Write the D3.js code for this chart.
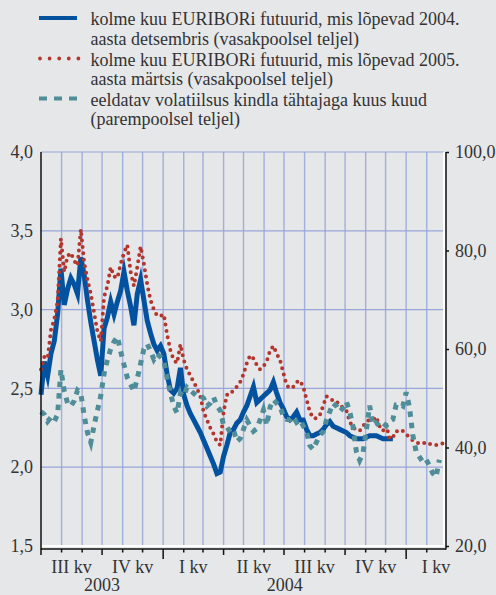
<!DOCTYPE html>
<html>
<head>
<meta charset="utf-8">
<script src="https://cdn.jsdelivr.net/npm/d3@7"></script>
<style>
    body { margin: 0; background: #e6e7e9; }
    svg { display: block; font-family: "Liberation Serif", "Times New Roman", serif; }
</style>
</head>
<body>
<svg id="chart" width="496" height="595"></svg>
<script>
// readings every 5 calendar days from 1 July 2003
const startDate = new Date(2003, 6, 1);
const stepDays = 5;

const euribor2004Dec = [
    2.46, 2.67, 2.58, 2.72, 2.80, 2.97, 3.26, 3.03, 3.13, 3.20,
    3.16, 3.10, 3.33, 3.22, 3.06, 2.92, 2.80, 2.68, 2.58, 2.88,
    2.95, 3.05, 2.97, 3.05, 3.12, 3.24, 3.12, 3.02, 2.90, 3.10,
    3.19, 3.06, 2.93, 2.85, 2.78, 2.74, 2.77, 2.72, 2.59, 2.49,
    2.47, 2.50, 2.63, 2.46, 2.39, 2.34, 2.30, 2.26, 2.22, 2.17,
    2.12, 2.07, 2.02, 1.96, 1.97, 2.07, 2.14, 2.22, 2.24, 2.28,
    2.30, 2.35, 2.39, 2.45, 2.51, 2.41, 2.43, 2.45, 2.47, 2.49,
    2.54, 2.47, 2.41, 2.37, 2.32, 2.30, 2.32, 2.35, 2.30, 2.30,
    2.24, 2.20, 2.20, 2.21, 2.22, 2.24, 2.27, 2.29, 2.26, 2.25,
    2.24, 2.23, 2.22, 2.20, 2.19, 2.18, 2.18, 2.18, 2.19, 2.20,
    2.20, 2.20, 2.19, 2.18, 2.18, 2.18, 2.18
];

const euribor2005Mar = [
    2.62, 2.70, 2.69, 2.87, 2.94, 3.05, 3.45, 3.24, 3.34, 3.36,
    3.31, 3.28, 3.51, 3.30, 3.19, 3.10, 2.98, 2.86, 2.80, 3.08,
    3.15, 3.27, 3.21, 3.20, 3.29, 3.36, 3.41, 3.24, 3.15, 3.27,
    3.40, 3.29, 3.16, 3.06, 3.00, 2.96, 2.96, 2.97, 2.84, 2.74,
    2.68, 2.66, 2.78, 2.68, 2.62, 2.58, 2.54, 2.50, 2.45, 2.35,
    2.30, 2.25, 2.21, 2.16, 2.14, 2.35, 2.46, 2.46, 2.49, 2.51,
    2.54, 2.59, 2.66, 2.71, 2.69, 2.65, 2.62, 2.64, 2.67, 2.74,
    2.77, 2.72, 2.68, 2.60, 2.52, 2.50, 2.51, 2.54, 2.55, 2.51,
    2.43, 2.35, 2.31, 2.31, 2.33, 2.39, 2.45, 2.44, 2.42, 2.42,
    2.39, 2.38, 2.36, 2.29, 2.25, 2.24, 2.23, 2.26, 2.29, 2.30,
    2.30, 2.32, 2.26, 2.23, 2.27, 2.18, 2.19, 2.23, 2.22, 2.23,
    2.21, 2.19, 2.17, 2.16, 2.15, 2.15, 2.16, 2.15, 2.14, 2.14,
    2.15, 2.15
];

const volatility = [
    47.3, 46.7, 45.3, 46.1, 45.3, 46.7, 55.8, 51.5, 49.0, 48.4,
    49.5, 51.6, 51.0, 46.5, 43.0, 41.0, 44.5, 47.5, 50.5, 55.0,
    57.8, 60.0, 61.5, 62.5, 59.5, 56.8, 54.2, 52.8, 51.4, 54.0,
    57.0, 60.0, 61.0, 59.6, 57.9, 59.0, 58.4, 57.6, 54.0, 51.0,
    48.4, 47.0, 51.0, 50.4, 52.2, 51.6, 51.0, 50.4, 50.5, 50.0,
    48.4, 49.0, 50.2, 48.4, 47.5, 44.5, 44.2, 43.1, 43.6, 41.2,
    41.8, 43.7, 45.6, 44.4, 43.3, 43.8, 45.6, 47.6, 44.5, 48.2,
    49.7, 49.0, 48.3, 46.4, 45.7, 45.6, 46.3, 45.1, 45.6, 44.4,
    43.1, 40.4, 39.6, 41.1, 42.5, 43.2, 45.6, 47.3, 49.0, 48.4,
    47.3, 48.0, 49.3, 47.3, 44.2, 39.2, 37.4, 38.9, 43.5, 48.5,
    44.5, 45.0, 44.4, 45.0, 44.4, 45.3, 45.7, 48.7, 48.8, 48.4,
    51.2, 48.2, 42.5, 39.2, 38.1, 37.1, 37.6, 36.3, 34.8, 34.0,
    37.5
];

const leftTicks = [1.5, 2.0, 2.5, 3.0, 3.5, 4.0];
const rightTicks = [20, 40, 60, 80, 100];
const quarterLabels = ["III kv", "IV kv", "I kv", "II kv", "III kv", "IV kv", "I kv"];
const yearLabels = ["2003", "2004"];

const legendItems = [
    ["kolme kuu EURIBORi futuurid, mis lõpevad 2004.", "aasta detsembris (vasakpoolsel teljel)"],
    ["kolme kuu EURIBORi futuurid, mis lõpevad 2005.", "aasta märtsis (vasakpoolsel teljel)"],
    ["eeldatav volatiilsus kindla tähtajaga kuus kuud", "(parempoolsel teljel)"]
];

const colBlue = "#0352a0",
    colRed = "#b3362e",
    colTeal = "#4f8e99",
    colGrid = "#97a5d9",
    colText = "#333";

const pLeft = 41, pRight = 444, pTop = 152, pBottom = 546;

const svg = d3.select("#chart");

const x = d3.scaleTime()
    .domain([startDate, new Date(2005, 1, 27)])
    .range([pLeft, pRight]);
const yL = d3.scaleLinear().domain([1.5, 4]).range([pBottom, pTop]);
const yR = d3.scaleLinear().domain([20, 100]).range([pBottom, pTop]);

const dateAt = i => d3.timeDay.offset(startDate, i * stepDays);
const fmt = d => d3.format(".1f")(d).replace(".", ",");

// legend
const legend = svg.append("g");
const legendY = [18, 58.5, 98.5];
legendItems.forEach(function (lines, k) {
    lines.forEach(function (t, j) {
        legend.append("text")
            .attr("x", 90.5)
            .attr("y", legendY[k] + 7 + j * 19.7)
            .attr("font-size", 18)
            .attr("fill", colText)
            .text(t);
    });
});
legend.append("line")
    .attr("x1", 39).attr("x2", 77).attr("y1", legendY[0]).attr("y2", legendY[0])
    .attr("stroke", colBlue).attr("stroke-width", 4);
legend.append("line")
    .attr("x1", 40).attr("x2", 79).attr("y1", legendY[1]).attr("y2", legendY[1])
    .attr("stroke", colRed).attr("stroke-width", 3.8)
    .attr("stroke-linecap", "round").attr("stroke-dasharray", "0 9.6");
legend.append("line")
    .attr("x1", 39).attr("x2", 77).attr("y1", legendY[2]).attr("y2", legendY[2])
    .attr("stroke", colTeal).attr("stroke-width", 4)
    .attr("stroke-dasharray", "8 7");

// grid
const grid = svg.append("g");
grid.selectAll(".hgrid")
    .data(leftTicks.slice(1))
    .enter().append("line")
    .attr("x1", pLeft).attr("x2", pRight)
    .attr("y1", d => yL(d)).attr("y2", d => yL(d))
    .attr("stroke", colGrid).attr("stroke-width", 1.2);
grid.selectAll(".vgrid")
    .data(d3.timeMonth.range(new Date(2003, 7, 1), x.domain()[1]))
    .enter().append("line")
    .attr("x1", d => x(d)).attr("x2", d => x(d))
    .attr("y1", pTop).attr("y2", pBottom)
    .attr("stroke", colGrid).attr("stroke-width", 1.4).attr("opacity", 0.85);

// white frame
svg.append("line").attr("x1", pLeft).attr("x2", pRight).attr("y1", pBottom).attr("y2", pBottom)
    .attr("stroke", "#fff").attr("stroke-width", 2);
svg.append("line").attr("x1", pRight).attr("x2", pRight).attr("y1", pTop).attr("y2", pBottom)
    .attr("stroke", "#fff").attr("stroke-width", 2);

// series
const lineL = d3.line().x((d, i) => x(dateAt(i))).y(d => yL(d));
const lineR = d3.line().x((d, i) => x(dateAt(i))).y(d => yR(d));

svg.append("path").datum(euribor2004Dec)
    .attr("d", lineL).attr("fill", "none")
    .attr("stroke", colBlue).attr("stroke-width", 5)
    .attr("stroke-miterlimit", 6);
svg.append("path").datum(euribor2005Mar)
    .attr("d", lineL).attr("fill", "none")
    .attr("stroke", colRed).attr("stroke-width", 4)
    .attr("stroke-linecap", "round").attr("stroke-dasharray", "0 6.5");
svg.append("path").datum(volatility)
    .attr("d", lineR).attr("fill", "none")
    .attr("stroke", colTeal).attr("stroke-width", 5)
    .attr("stroke-dasharray", "5.5 6");

// axes
svg.append("line").attr("x1", pLeft).attr("x2", pLeft).attr("y1", pTop).attr("y2", pBottom + 3.5)
    .attr("stroke", "#111").attr("stroke-width", 1.5);
svg.append("line").attr("x1", pRight + 2).attr("x2", pRight + 2).attr("y1", pTop).attr("y2", pBottom + 3.5)
    .attr("stroke", "#111").attr("stroke-width", 1.5);
svg.append("line").attr("x1", pLeft).attr("x2", pRight + 2).attr("y1", pBottom + 3).attr("y2", pBottom + 3)
    .attr("stroke", "#111").attr("stroke-width", 1.5);

const axL = svg.append("g")
    .attr("transform", "translate(" + pLeft + ",0)")
    .call(d3.axisLeft(yL).tickValues(leftTicks).tickSize(0).tickPadding(8).tickFormat(fmt));
const axR = svg.append("g")
    .attr("transform", "translate(" + (pRight + 2) + ",0)")
    .call(d3.axisRight(yR).tickValues(rightTicks).tickSize(3).tickPadding(6).tickFormat(fmt));
[axL, axR].forEach(function (ax) {
    ax.select(".domain").remove();
    ax.selectAll("line").attr("stroke", "#111").attr("stroke-width", 1.5);
    ax.selectAll("text").attr("font-size", 18).attr("fill", colText)
        .attr("font-family", "Liberation Serif, Times New Roman, serif");
});

// month ticks on the x axis
const months = d3.timeMonth.range(startDate, x.domain()[1]);
svg.selectAll(".mtick")
    .data(months)
    .enter().append("line")
    .attr("x1", d => x(d)).attr("x2", d => x(d))
    .attr("y1", pBottom + 3)
    .attr("y2", d => pBottom + 3 + (d.getMonth() === 0 ? 10 : d.getMonth() % 3 === 0 ? 6 : 3.5))
    .attr("stroke", "#111").attr("stroke-width", 1.5);

// quarter and year labels
const quarters = d3.timeMonth.every(3).range(startDate, x.domain()[1]);
svg.selectAll(".qlab")
    .data(quarters)
    .enter().append("text")
    .attr("x", d => (x(d) + x(d3.timeMonth.offset(d, 3))) / 2)
    .attr("y", 573)
    .attr("text-anchor", "middle")
    .attr("font-size", 18).attr("fill", colText)
    .text((d, i) => quarterLabels[i]);

const years = [[startDate, new Date(2004, 0, 1)], [new Date(2004, 0, 1), new Date(2005, 0, 1)]];
svg.selectAll(".ylab")
    .data(years)
    .enter().append("text")
    .attr("x", d => (x(d[0]) + x(d[1])) / 2)
    .attr("y", 591)
    .attr("text-anchor", "middle")
    .attr("font-size", 18).attr("fill", colText)
    .text((d, i) => yearLabels[i]);
</script>
</body>
</html>
